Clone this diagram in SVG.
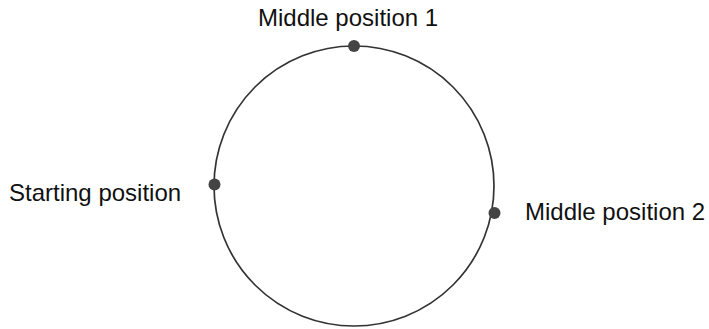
<svg xmlns="http://www.w3.org/2000/svg" width="709" height="329" viewBox="0 0 709 329">
<style>
.lbl{font-family:"Liberation Sans",Arial,sans-serif;font-size:24px;fill:#111}
.dot{fill:#444}
.ring{fill:none;stroke:#333;stroke-width:1.7}
</style>
<rect width="709" height="329" fill="#fff"/>
<g id="connectors">
<circle class="ring" cx="354" cy="186" r="140"/>
</g>
<g id="middle1">
<circle class="dot" cx="354" cy="46" r="6"/>
<text class="lbl" x="258" y="26">Middle position 1</text>
</g>
<g id="start">
<circle class="dot" cx="214.5" cy="184.5" r="6"/>
<text class="lbl" x="9" y="201">Starting position</text>
</g>
<g id="middle2">
<circle class="dot" cx="494.5" cy="213" r="6"/>
<text class="lbl" x="525" y="220">Middle position 2</text>
</g>
</svg>
